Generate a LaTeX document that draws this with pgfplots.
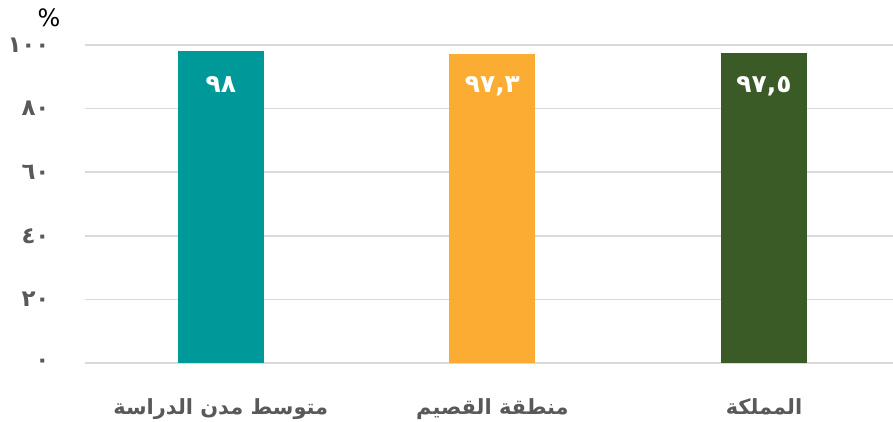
\documentclass[border=0pt]{standalone}
\usepackage{fontspec}
\usepackage{pgfplots}
\pgfplotsset{compat=1.18}
\setmainfont{DejaVu Sans}
\newfontfamily\arabicfont[Script=Arabic]{DejaVu Sans}
\TeXXeTstate=1
\definecolor{cteal}{RGB}{0,153,153}
\definecolor{corange}{RGB}{251,172,51}
\definecolor{cgreen}{RGB}{58,90,38}
\definecolor{cgrid}{RGB}{217,217,217}
\definecolor{ctext}{RGB}{89,89,89}
\begin{document}
\begin{tikzpicture}
\begin{axis}[
  at={(0,0)}, anchor=south west,
  scale only axis,
  width=808bp, height=318bp,
  xmin=-0.5, xmax=2.475,
  ymin=0, ymax=100,
  ytick={0,20,40,60,80,100},
  yticklabels={٠,٢٠,٤٠,٦٠,٨٠,١٠٠},
  xtick={0,1,2},
  xticklabels={{\beginR متوسط مدن الدراسة\endR},{\beginR منطقة القصيم\endR},{\beginR المملكة\endR}},
  axis line style={draw=none},
  major tick length=0pt,
  ymajorgrids,
  grid style={cgrid, line width=1.5bp},
  yticklabel style={font=\arabicfont\bfseries\fontsize{23}{26}\selectfont, text=ctext, anchor=east, xshift=-32bp},
  xticklabel style={font=\arabicfont\bfseries\fontsize{21}{24}\selectfont, text=ctext, anchor=base, yshift=-51bp},
  ybar, bar width=86bp, bar shift=0pt,
  every node near coord/.append style={anchor=center, yshift=-33bp, text=white, font=\arabicfont\bfseries\fontsize{25}{28}\selectfont},
  clip=false,
]
\addplot[fill=cteal, draw=none, nodes near coords={٩٨}] coordinates {(0,98)};
\addplot[fill=corange, draw=none, nodes near coords={٩٧,٣}] coordinates {(1,97.3)};
\addplot[fill=cgreen, draw=none, nodes near coords={٩٧,٥}] coordinates {(2,97.5)};
\node[font=\fontsize{24}{27}\selectfont, text=black] at ([xshift=-36bp, yshift=27bp]rel axis cs:0,1) {\%};
\end{axis}
\pgfresetboundingbox
\path[use as bounding box] (-85bp,-59bp) rectangle (808bp,363bp);
\end{tikzpicture}
\end{document}
